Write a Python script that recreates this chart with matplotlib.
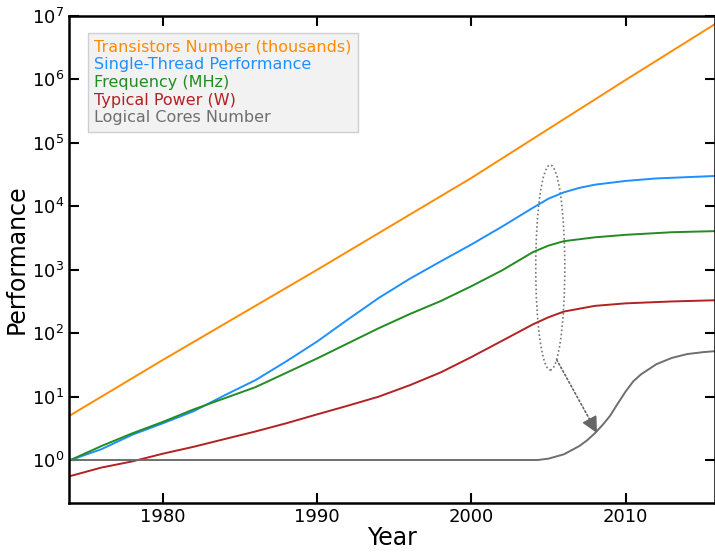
import matplotlib
matplotlib.use("Agg")
import matplotlib.pyplot as plt
import matplotlib.patheffects as pe
from matplotlib.patches import Ellipse
from matplotlib.ticker import NullLocator, LogLocator

# values (log-scale chart)
trans_years = [1974, 1980, 1990, 2000, 2010, 2016]
transistors = [5.1, 38, 1000, 28000, 980000, 8.0e6]

st_years = [1974, 1976, 1978, 1980, 1982, 1984, 1986, 1988, 1990, 1992, 1994, 1996,
            1998, 2000, 2002, 2004, 2005, 2006, 2007, 2008, 2010, 2012, 2014, 2016]
single_thread = [1.0, 1.48, 2.5, 3.8, 5.9, 10.5, 18.2, 36, 74, 165, 360, 720,
                 1350, 2500, 4800, 9500, 13200, 16600, 19500, 21900, 25100, 27500, 28800, 30200]

freq_years = [1974, 1976, 1978, 1980, 1982, 1986, 1990, 1994, 1996, 1998, 2000, 2002, 2004,
              2005, 2006, 2008, 2010, 2013, 2016]
frequency = [1.0, 1.66, 2.63, 4.0, 6.3, 14.1, 40, 120, 200, 320, 550, 980, 1900,
             2400, 2820, 3240, 3550, 3900, 4070]

pow_years = [1974, 1976, 1978, 1980, 1982, 1984, 1986, 1988, 1990, 1992, 1994, 1996,
             1998, 2000, 2002, 2004, 2005, 2006, 2008, 2010, 2013, 2016]
power = [0.56, 0.76, 0.95, 1.26, 1.62, 2.14, 2.82, 3.8, 5.25, 7.2, 10, 15.1,
         24, 42, 76, 138, 178, 219, 269, 295, 316, 331]

core_years = [1974, 2004.3, 2005, 2006, 2007, 2007.5, 2008, 2008.5, 2009, 2009.5, 2010,
              2010.5, 2011, 2012, 2013, 2014, 2015, 2016]
cores = [1, 1, 1.05, 1.23, 1.66, 2.04, 2.63, 3.55, 5.0, 7.8, 12,
         17.4, 22.4, 32.4, 40.7, 46.8, 50.1, 52.5]

series = [
    ("Transistors Number (thousands)", trans_years, transistors, "#ff8c00"),
    ("Single-Thread Performance", st_years, single_thread, "#1e90ff"),
    ("Frequency (MHz)", freq_years, frequency, "#228b22"),
    ("Typical Power (W)", pow_years, power, "#b22222"),
    ("Logical Cores Number", core_years, cores, "#6e6e6e"),
]

fig = plt.figure(figsize=(7.15, 5.54), dpi=100)
ax = fig.add_axes([69 / 715, 1 - 503 / 554, 1 - 69 / 715, (503 - 16) / 554])

for label, x, y, c in series:
    ax.plot(x, y, color=c, lw=1.4, label=label)

ax.set_yscale("log")
ax.set_xlim(1973.9, 2015.8)
ax.set_ylim(0.21, 1e7)
ax.yaxis.set_major_locator(LogLocator(base=10, numticks=10))
ax.yaxis.set_minor_locator(NullLocator())
ax.set_xticks([1980, 1990, 2000, 2010])
ax.tick_params(which="both", direction="in", top=True, right=True,
               length=7, width=1.5, labelsize=13)
for sp in ax.spines.values():
    sp.set_linewidth(1.8)
    sp.set_path_effects([pe.SimplePatchShadow(offset=(2, -2), alpha=0.35), pe.Normal()])

ax.set_xlabel("Year", fontsize=17, labelpad=0)
ax.set_ylabel("Performance", fontsize=17, labelpad=2)

leg = ax.legend(loc="upper left", bbox_to_anchor=(0.029, 0.965), borderaxespad=0,
                handlelength=0, handletextpad=0, labelcolor="linecolor",
                fontsize=11.5, labelspacing=0.17, fancybox=False,
                facecolor="#f2f2f2", edgecolor="#cfcfcf", framealpha=1)
for h in leg.legend_handles:
    h.set_visible(False)

# dotted ellipse around the 2005 flattening and arrow to the cores curve
ax.add_patch(Ellipse((0.745, 0.4836), 0.045, 0.421, transform=ax.transAxes,
                     fill=False, ec="#777777", ls=(0, (1, 1.5)), lw=1.2))
ax.annotate("", xy=(0.807, 0.169), xytext=(0.755, 0.294),
            xycoords="axes fraction", textcoords="axes fraction",
            arrowprops=dict(arrowstyle="-", color="#666666", ls=(0, (1, 1.5)),
                            lw=1.2, shrinkA=0, shrinkB=0))
ax.annotate("", xy=(0.8173, 0.1437), xytext=(0.807, 0.169),
            xycoords="axes fraction", textcoords="axes fraction",
            arrowprops=dict(arrowstyle="-|>,head_length=1.0,head_width=0.5",
                            color="#666666", lw=1.0, shrinkA=0, shrinkB=0))

fig.savefig("out.png", dpi=100)
